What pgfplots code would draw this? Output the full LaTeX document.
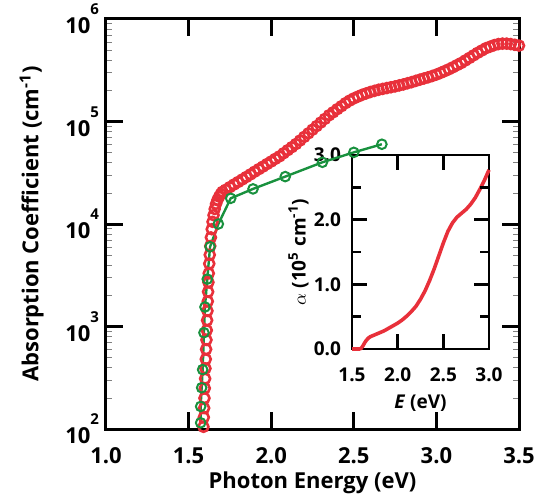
\documentclass[border=0pt]{standalone}
\usepackage{fontspec}
\setmainfont{Open Sans}
\usepackage{pgfplots}
\pgfplotsset{compat=1.18}
\definecolor{dataRed}{RGB}{232,48,58}
\definecolor{fitGreen}{RGB}{25,145,62}
\newcommand{\tp}[1]{10\raisebox{0.85em}{\fontsize{7.5}{7.5}\selectfont #1}}

\begin{document}
\begin{tikzpicture}
\useasboundingbox (-53pt,-35pt) rectangle (221.5pt,214.5pt);
% inset: alpha on a linear scale
\begin{axis}[at={(123pt,40pt)}, anchor=south west, scale only axis,
  width=68.5pt, height=97pt,
  xmin=1.5, xmax=3.0, ymin=0, ymax=3.0,
  xtick={1.5,2.0,2.5,3.0}, xticklabels={1.5,2.0,2.5,3.0},
  ytick={0,1,2,3}, yticklabels={0.0,1.0,2.0,3.0},
  xtick pos=both, ytick pos=both, tick align=inside,
  tickwidth=7.5pt,
  every major tick/.append style={black, line width=1.3pt},
  axis line style={line width=1.3pt},
  tick label style={font=\fontsize{9.5}{11}\selectfont\bfseries},
  xticklabel style={anchor=center, yshift=-13pt},
  yticklabel style={xshift=-2pt},
  xlabel={\textbf{\textit{E}} (eV)},
  ylabel={$\alpha$ (10\textsuperscript{5} cm\textsuperscript{-1})},
  label style={font=\fontsize{9.5}{11}\selectfont\bfseries},
  xlabel style={at={(axis description cs:0.5,-0.28)}, anchor=center},
  ylabel style={at={(axis description cs:-0.39,0.5)}, anchor=center},
  clip=false,
]
\addplot[dataRed, line width=1.8pt] coordinates {
 (1.50,0.0) (1.52,0.0) (1.55,0.0) (1.58,0.0) (1.60,0.01) (1.62,0.05)
 (1.64,0.10) (1.66,0.14) (1.68,0.17) (1.70,0.19) (1.75,0.22) (1.80,0.25)
 (1.85,0.28) (1.90,0.32) (1.95,0.36) (2.00,0.40) (2.05,0.45) (2.10,0.51)
 (2.15,0.58) (2.20,0.66) (2.25,0.77) (2.30,0.90) (2.35,1.06) (2.40,1.24)
 (2.45,1.44) (2.50,1.64) (2.55,1.82) (2.60,1.95) (2.65,2.04) (2.70,2.10)
 (2.75,2.16) (2.80,2.24) (2.85,2.34) (2.90,2.47) (2.95,2.61) (3.00,2.77)};
% tick marks drawn by hand in axis units (inward, on all four sides)
\pgfplotsinvokeforeach{2.0,2.5}{
  \draw[line width=1.3pt] (axis cs:#1,0) -- (axis cs:#1,0.232);
  \draw[line width=1.3pt] (axis cs:#1,3) -- (axis cs:#1,2.768);
}
\pgfplotsinvokeforeach{1,2}{
  \draw[line width=1.3pt] (axis cs:1.5,#1) -- (axis cs:1.664,#1);
  \draw[line width=1.3pt] (axis cs:3.0,#1) -- (axis cs:2.836,#1);
}
\pgfplotsinvokeforeach{0.5,1.5,2.5}{
  \draw[line width=1.3pt] (axis cs:1.5,#1) -- (axis cs:1.5985,#1);
  \draw[line width=1.3pt] (axis cs:3.0,#1) -- (axis cs:2.9015,#1);
}
\end{axis}
% main log plot
\begin{axis}[at={(0pt,0pt)}, anchor=south west, scale only axis,
  width=206.5pt, height=205pt,
  xmin=1.0, xmax=3.5, ymode=log, ymin=100, ymax=1e6,
  xtick={1.0,1.5,2.0,2.5,3.0,3.5}, xticklabels={1.0,1.5,2.0,2.5,3.0,3.5},
  ytick={1e2,1e3,1e4,1e5,1e6},
  yticklabels={\tp{2},\tp{3},\tp{4},\tp{5},\tp{6}},
  minor ytick={},
  xtick pos=both, ytick pos=both, tick align=inside,
  tickwidth=8.5pt,
  every major tick/.append style={black, line width=1.5pt},
  axis line style={line width=1.5pt},
  tick label style={font=\fontsize{11}{13}\selectfont\bfseries},
  xticklabel style={anchor=center, yshift=-13.5pt},
  xlabel={Photon Energy (eV)},
  ylabel={Absorption Coefficient (cm\textsuperscript{-1})},
  label style={font=\fontsize{11}{13}\selectfont\bfseries},
  xlabel style={at={(axis description cs:0.5,-0.13)}, anchor=center},
  ylabel style={at={(axis description cs:-0.18,0.5)}, anchor=center},
  clip=false,
]
\pgfplotsinvokeforeach{1.5,2.0,2.5,3.0}{
  \draw[line width=1.5pt] (axis cs:#1,100) -- (axis cs:#1,146.5);
  \draw[line width=1.5pt] (axis cs:#1,1e6) -- (axis cs:#1,682600);
}
\pgfplotsinvokeforeach{1e3,1e4,1e5}{
  \draw[line width=1.5pt] (axis cs:1.0,#1) -- (axis cs:1.103,#1);
  \draw[line width=1.5pt] (axis cs:3.5,#1) -- (axis cs:3.397,#1);
}
\addplot[dataRed, only marks, mark=o, mark size=2.5pt, mark options={line width=1.3pt}] coordinates {
 (1.590,105) (1.592,130) (1.594,160) (1.596,200) (1.598,250) (1.600,310)
 (1.602,390) (1.604,480) (1.606,600) (1.608,740) (1.610,920) (1.612,1150)
 (1.614,1420) (1.616,1760) (1.618,2180) (1.620,2700) (1.622,3300) (1.625,4100)
 (1.628,5000) (1.631,6100) (1.635,7400) (1.640,8900) (1.645,10500) (1.651,12200)
 (1.658,14000) (1.666,15700) (1.675,17200) (1.685,18500) (1.695,19600) (1.705,20600)
 (1.725,21600) (1.750,22900) (1.775,24300) (1.800,25700) (1.825,27200) (1.850,28800)
 (1.875,30500) (1.900,32400) (1.925,34300) (1.950,36300) (1.975,38500) (2.000,40700)
 (2.025,43200) (2.050,45700) (2.075,49000) (2.100,52500) (2.125,56200) (2.150,60300)
 (2.175,65300) (2.200,70800) (2.225,76700) (2.250,83200) (2.275,90200) (2.300,97700)
 (2.325,106000) (2.350,115000) (2.375,123000) (2.400,132000) (2.425,141000) (2.450,151000)
 (2.475,160000) (2.500,168000) (2.525,175000) (2.550,182000) (2.575,188000) (2.600,194000)
 (2.625,199000) (2.650,204000) (2.675,208000) (2.700,212000) (2.725,216000) (2.750,220000)
 (2.775,225000) (2.800,230000) (2.825,236000) (2.850,242000) (2.875,249000) (2.900,256000)
 (2.925,263000) (2.950,270000) (2.975,278000) (3.000,287000) (3.025,298000) (3.050,310000)
 (3.075,323000) (3.100,338000) (3.125,355000) (3.150,372000) (3.175,394000) (3.200,417000)
 (3.225,442000) (3.250,468000) (3.275,493000) (3.300,519000) (3.325,537000) (3.350,556000)
 (3.375,569000) (3.400,575000) (3.425,575000) (3.450,569000) (3.475,560000) (3.500,550000)};
\addplot[fitGreen, line width=1.2pt, mark=o, mark size=2.4pt, mark options={line width=1pt}] coordinates {
 (1.573,115) (1.573,166) (1.579,253) (1.585,380) (1.593,870) (1.599,1550)
 (1.613,2900) (1.630,6000) (1.680,10000) (1.755,17800) (1.890,22000) (2.085,29000)
 (2.310,40000) (2.500,50000) (2.670,60000)};
\end{axis}
\end{tikzpicture}
\end{document}
